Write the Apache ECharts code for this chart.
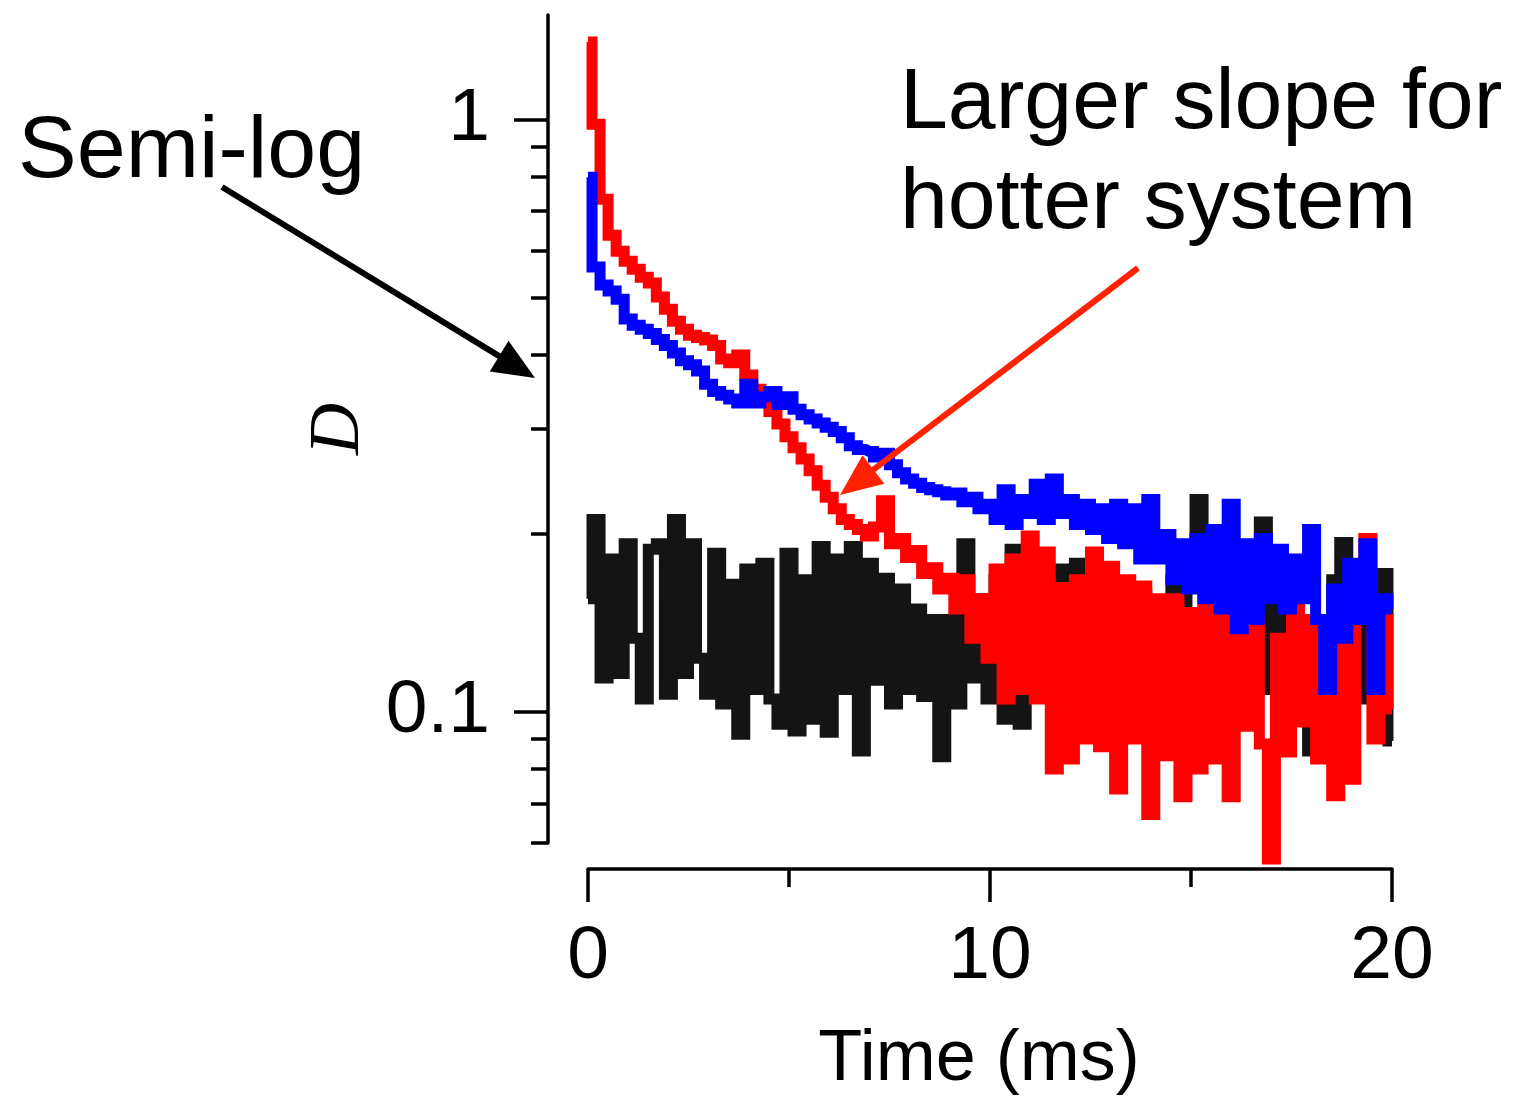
<!DOCTYPE html>
<html>
<head>
<meta charset="utf-8">
<script src="https://cdn.jsdelivr.net/npm/echarts@6/dist/echarts.min.js"></script>
<style>html,body{margin:0;padding:0;background:#fff}#chart{width:1514px;height:1101px}</style>
</head>
<body>
<div id="chart"></div>
<script>
// time (ms)
const timeMs = [0,0.2,0.4,0.6,0.8,1,1.2,1.4,1.6,1.8,2,2.2,2.4,2.6,2.8,3,3.2,3.4,3.6,3.8,
4,4.2,4.4,4.6,4.8,5,5.2,5.4,5.6,5.8,6,6.2,6.4,6.6,6.8,7,7.2,7.4,7.6,7.8,
8,8.2,8.4,8.6,8.8,9,9.2,9.4,9.6,9.8,10,10.2,10.4,10.6,10.8,11,11.2,11.4,11.6,11.8,
12,12.2,12.4,12.6,12.8,13,13.2,13.4,13.6,13.8,14,14.2,14.4,14.6,14.8,15,15.2,15.4,15.6,15.8,
16,16.2,16.4,16.6,16.8,17,17.2,17.4,17.6,17.8,18,18.2,18.4,18.6,18.8,19,19.2,19.4,19.6,19.8,20];

// black (reference) series D
const blackD = [0.155,0.211,0.114,0.181,0.116,0.192,0.133,0.105,0.188,0.192,
0.107,0.211,0.116,0.192,0.123,0.107,0.185,0.103,0.164,0.0916,
0.174,0.109,0.178,0.105,0.0952,0.185,0.0927,0.167,0.0971,0.190,
0.0923,0.181,0.109,0.190,0.0858,0.178,0.113,0.168,0.103,0.161,
0.109,0.149,0.106,0.143,0.0839,0.143,0.103,0.192,0.114,0.155,
0.105,0.167,0.0971,0.188,0.0952,0.155,0.109,0.161,0.123,0.174,
0.114,0.178,0.105,0.149,0.114,0.143,0.105,0.155,0.109,0.158,
0.114,0.149,0.105,0.167,0.109,0.181,0.228,0.114,0.155,0.105,
0.161,0.109,0.155,0.114,0.209,0.109,0.155,0.105,0.149,0.109,
0.0858,0.143,0.109,0.167,0.193,0.109,0.149,0.105,0.155,0.171,0.0892];

// red (hotter) series D
const redD = [1.35,0.981,0.733,0.637,0.599,0.576,0.558,0.541,0.529,0.501,
0.478,0.456,0.442,0.432,0.428,0.424,0.415,0.394,0.388,0.400,
0.370,0.350,0.334,0.321,0.306,0.291,0.279,0.267,0.255,0.241,
0.230,0.220,0.211,0.207,0.203,0.198,0.205,0.227,0.192,0.196,
0.182,0.187,0.171,0.175,0.161,0.168,0.149,0.167,0.133,0.155,
0.123,0.174,0.105,0.181,0.109,0.198,0.105,0.186,0.0800,0.162,
0.0832,0.167,0.0899,0.186,0.0872,0.176,0.0740,0.167,0.0899,0.163,
0.0670,0.155,0.0842,0.155,0.0718,0.147,0.0800,0.181,0.0832,0.155,
0.0718,0.133,0.0945,0.143,0.0882,0.0564,0.133,0.0855,0.155,0.0960,
0.143,0.0832,0.128,0.0721,0.133,0.0769,0.161,0.196,0.0899,0.143,0.101];

// blue series D
const blueD = [0.798,0.563,0.525,0.513,0.497,0.460,0.449,0.442,0.435,0.425,
0.415,0.403,0.391,0.385,0.376,0.357,0.347,0.342,0.337,0.332,
0.357,0.332,0.340,0.347,0.330,0.340,0.324,0.317,0.312,0.307,
0.302,0.297,0.290,0.281,0.277,0.275,0.269,0.273,0.261,0.253,
0.247,0.243,0.239,0.237,0.235,0.232,0.234,0.226,0.230,0.220,
0.224,0.211,0.237,0.207,0.228,0.216,0.242,0.211,0.247,0.216,
0.228,0.207,0.224,0.203,0.220,0.196,0.224,0.192,0.220,0.181,
0.228,0.181,0.199,0.167,0.192,0.161,0.196,0.155,0.203,0.149,
0.224,0.138,0.192,0.143,0.196,0.155,0.188,0.149,0.181,0.155,
0.203,0.143,0.109,0.161,0.133,0.178,0.143,0.192,0.109,0.155,0.149];

const xLabelTicks = [0, 10, 20];
const yMajorTicks = [0.1, 1];
const yMinorTicks = [0.06, 0.07, 0.08, 0.09, 0.2, 0.3, 0.4, 0.5, 0.6, 0.7, 0.8, 0.9];

const pairs = arr => timeMs.map((t, i) => [t, arr[i]]);

const chart = echarts.init(document.getElementById('chart'), null, {renderer: 'canvas'});

function arrow(x1, y1, x2, y2, color, w, headLen, headHalf) {
  const dx = x2 - x1, dy = y2 - y1, L = Math.sqrt(dx*dx + dy*dy);
  const ux = dx / L, uy = dy / L;
  const bx = x2 - ux * headLen, by = y2 - uy * headLen;
  return [
    {type: 'line', shape: {x1: x1, y1: y1, x2: bx + ux * 2, y2: by + uy * 2}, style: {stroke: color, lineWidth: w}, z: 100},
    {type: 'polygon', shape: {points: [[x2, y2], [bx - uy * headHalf, by + ux * headHalf], [bx + uy * headHalf, by - ux * headHalf]]}, style: {fill: color}, z: 100}
  ];
}

const axisColor = '#000';
const labelFont = 'Liberation Sans';

const option = {
  animation: false,
  backgroundColor: '#fff',
  grid: {left: 588, right: 122, top: 15, bottom: 257, containLabel: false},
  xAxis: {
    type: 'value', min: 0, max: 20, interval: 10,
    position: 'bottom', offset: 26,
    axisLine: {show: true, onZero: false, lineStyle: {color: axisColor, width: 3.5}},
    axisTick: {show: true, length: 33, lineStyle: {color: axisColor, width: 3.5}},
    minorTick: {show: true, splitNumber: 2, length: 18, lineStyle: {color: axisColor, width: 3.5}},
    axisLabel: {customValues: xLabelTicks, fontSize: 75, fontFamily: labelFont, color: '#000', margin: 51},
    splitLine: {show: false},
    name: 'Time (ms)', nameLocation: 'middle', nameGap: 155,
    nameTextStyle: {fontSize: 72, fontFamily: labelFont, color: '#000', padding: [0, 22, 0, 0]}
  },
  yAxis: [{
    type: 'log', logBase: 10, min: 0.06, max: 1.5,
    position: 'left', offset: 40,
    axisLine: {show: true, onZero: false, lineStyle: {color: axisColor, width: 3.5}},
    axisTick: {show: true, customValues: yMajorTicks, length: 34, lineStyle: {color: axisColor, width: 3.5}},
    axisLabel: {customValues: yMajorTicks, fontSize: 75, fontFamily: labelFont, color: '#000', margin: 58,
      formatter: v => String(+(+v).toPrecision(3))},
    splitLine: {show: false},
    name: 'D', nameLocation: 'middle', nameGap: 172,
    nameTextStyle: {fontSize: 72, fontFamily: 'Liberation Serif', fontStyle: 'italic', color: '#000'}
  }, {
    type: 'log', logBase: 10, min: 0.06, max: 1.5,
    position: 'left', offset: 40,
    axisLine: {show: false, onZero: false},
    axisTick: {show: true, customValues: yMinorTicks, length: 17, lineStyle: {color: axisColor, width: 3.5}},
    axisLabel: {show: false},
    splitLine: {show: false}
  }],
  series: [
    {name: 'black', type: 'line', step: 'middle', data: pairs(blackD), showSymbol: false, clip: false,
     lineStyle: {color: '#141414', width: 11, join: 'miter', cap: 'butt'}, z: 2},
    {name: 'red', type: 'line', step: 'middle', data: pairs(redD), showSymbol: false, clip: false,
     lineStyle: {color: '#ff0000', width: 11, join: 'miter', cap: 'butt'}, z: 3},
    {name: 'blue', type: 'line', step: 'middle', data: pairs(blueD), showSymbol: false, clip: false,
     lineStyle: {color: '#0000ff', width: 11, join: 'miter', cap: 'butt'}, z: 4}
  ],
  graphic: [
    {type: 'text', style: {text: 'Semi-log', x: 18, y: 153, font: '88px "Liberation Sans"', fill: '#000', textVerticalAlign: 'middle', verticalAlign: 'middle'}, z: 100},
    {type: 'text', style: {text: 'Larger slope for', x: 900, y: 104, font: '86px "Liberation Sans"', fill: '#000', textVerticalAlign: 'middle', verticalAlign: 'middle'}, z: 100},
    {type: 'text', style: {text: 'hotter system', x: 900, y: 204, font: '86px "Liberation Sans"', fill: '#000', textVerticalAlign: 'middle', verticalAlign: 'middle'}, z: 100}
  ].concat(arrow(222, 187, 535, 378, '#000', 6, 42, 18))
   .concat(arrow(1138, 268, 840, 495, '#ff2200', 6, 42, 18))
};
chart.setOption(option);
</script>
</body>
</html>
